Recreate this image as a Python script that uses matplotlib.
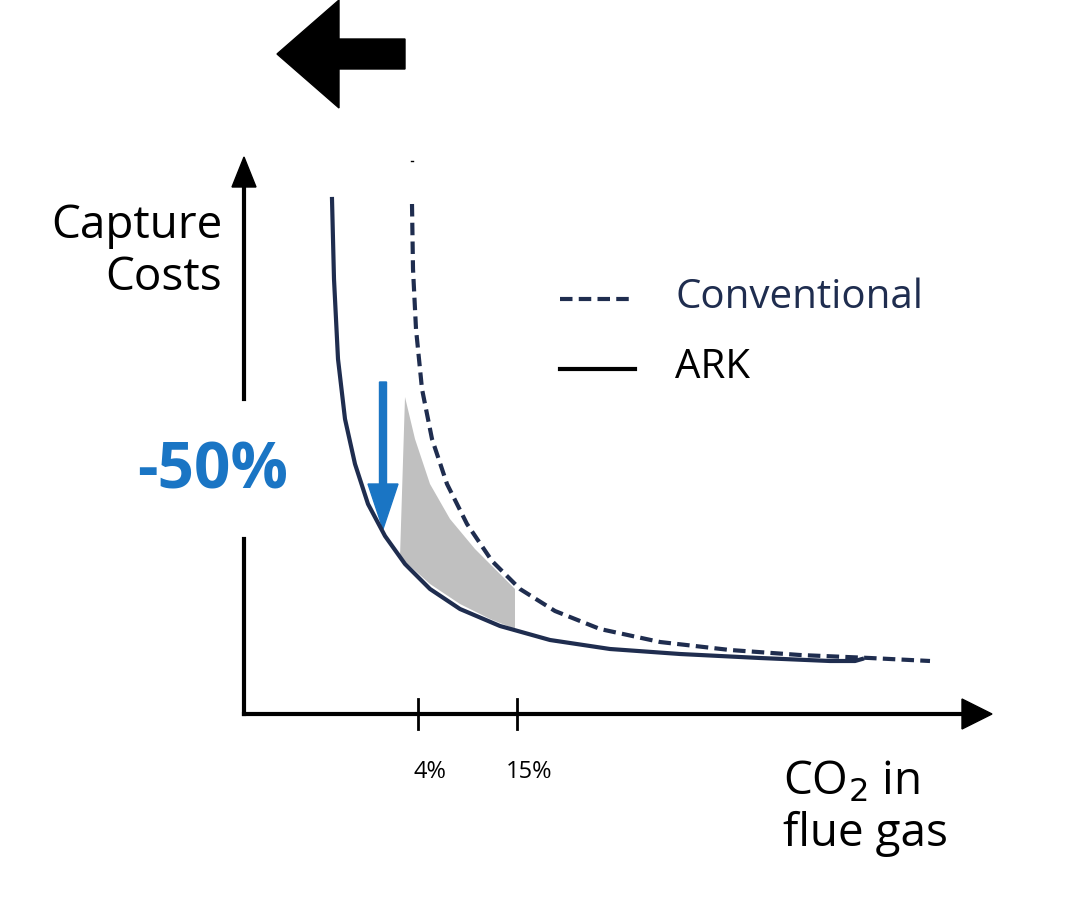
import matplotlib
matplotlib.use("Agg")
import matplotlib.pyplot as plt
from matplotlib.patches import Polygon, FancyArrow

# curve samples (pixel-space coordinates)
ark_x = [332, 334, 338, 345, 355, 368, 385, 405, 430, 460, 500, 550, 610, 680, 760, 830, 855, 862]
ark_y = [200, 280, 360, 420, 465, 505, 537, 565, 590, 610, 627, 641, 650, 655, 659, 662, 662, 660]
conv_x = [412, 413, 416, 422, 432, 447, 467, 492, 520, 555, 600, 660, 730, 800, 870, 930]
conv_y = [205, 270, 330, 390, 440, 485, 525, 562, 590, 612, 630, 643, 651, 656, 659, 662]
fill_x = [405, 415, 430, 450, 475, 500, 515, 515, 490, 460, 430, 400]
fill_y = [398, 440, 485, 520, 550, 575, 590, 630, 620, 605, 585, 558]
tick_x = [418, 517]
tick_labels = ["4%", "15%"]

navy = "#1f2d4f"
blue = "#1a75c4"
font = "Open Sans"

fig = plt.figure(figsize=(10.72, 9.12), dpi=100)
ax = fig.add_axes([0, 0, 1, 1])
ax.set_xlim(0, 1072)
ax.set_ylim(912, 0)
ax.axis("off")

ax.add_patch(Polygon(list(zip(fill_x, fill_y)), closed=True, color="#c0c0c0", lw=0))
ax.plot(ark_x, ark_y, color=navy, lw=3)
ax.plot(conv_x, conv_y, color=navy, lw=3, ls=(0, (3, 1.5)))
ax.plot([411, 413], [162, 162], color="black", lw=1)

# axes
ax.plot([244, 244], [715, 540], color="black", lw=3)
ax.plot([244, 244], [400, 185], color="black", lw=3)
ax.add_patch(Polygon([[232, 188], [256, 188], [244, 158]], color="black"))
ax.plot([244, 965], [715, 715], color="black", lw=3)
ax.add_patch(Polygon([[962, 700], [962, 730], [992, 715]], color="black"))
for tx, tl in zip(tick_x, tick_labels):
    ax.plot([tx, tx], [700, 730], color="black", lw=2)
    ax.text(tx + 12, 772, tl, fontsize=17, ha="center", va="center", family=font)

ax.text(222, 252, "Capture\nCosts", fontsize=33, ha="right", va="center",
        family=font, linespacing=1.15)
ax.text(783, 808, "CO$_2$ in\nflue gas", fontsize=33, ha="left", va="center",
        family=font, linespacing=1.15)

# legend
ax.plot([560, 635], [300, 300], color=navy, lw=3, ls=(0, (3, 1.5)))
ax.text(675, 298, "Conventional", fontsize=29, color=navy, va="center", family=font)
ax.plot([560, 635], [370, 370], color="black", lw=3)
ax.text(675, 368, "ARK", fontsize=29, color="black", va="center", family=font)

ax.text(213, 472, "-50%", fontsize=46, color=blue, weight="bold", ha="center",
        va="center", family=font)
ax.add_patch(FancyArrow(383, 383, 0, 147, width=7, head_width=30, head_length=45,
                        length_includes_head=True, color=blue))
ax.add_patch(FancyArrow(405, 55, -128, 0, width=30, head_width=108, head_length=62,
                        length_includes_head=True, color="black"))

fig.savefig("out.png", dpi=100)
